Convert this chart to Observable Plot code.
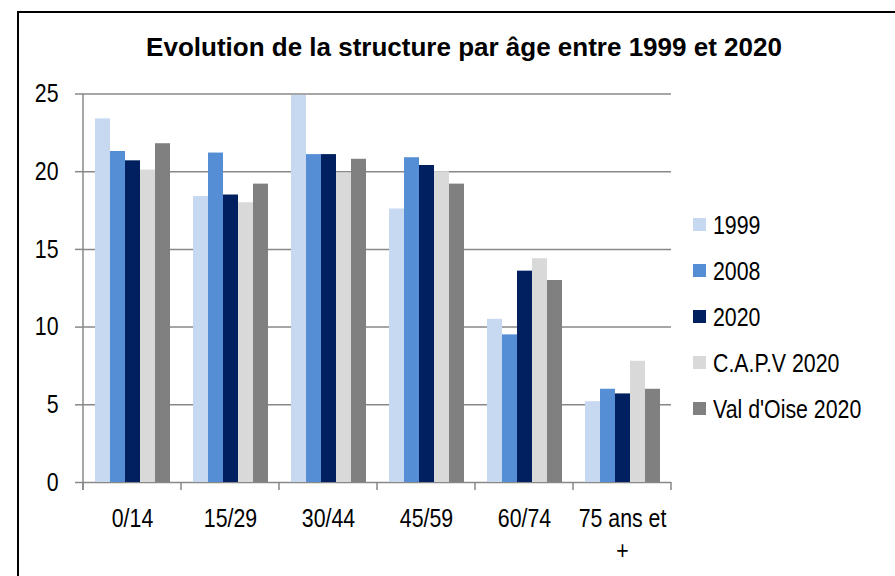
<!DOCTYPE html>
<html>
<head>
<meta charset="utf-8">
<script src="https://cdn.jsdelivr.net/npm/d3@7"></script>
<script src="https://cdn.jsdelivr.net/npm/@observablehq/plot@0.6"></script>
<style>
  html, body { margin: 0; padding: 0; background: #fff; }
  #wrap { position: relative; width: 895px; height: 576px; overflow: hidden; background: #fff; }
  #frame { position: absolute; left: 17px; top: 11px; width: 1000px; height: 1000px; border: 2px solid #000; box-sizing: border-box; }
  #chart { position: absolute; left: 0; top: 0; }
  #title { position: absolute; left: 0; width: 928px; top: 34px; text-align: center;
           font: bold 26px/26px "Liberation Sans", Arial, sans-serif; color: #000; white-space: nowrap; }
  #legend { position: absolute; left: 693px; top: 201.5px; }
  .item { display: flex; align-items: center; height: 46px;
          font: 26px/26px "Liberation Sans", Arial, sans-serif; color: #000; white-space: nowrap; }
  .sw { width: 13px; height: 13px; margin-right: 6.5px; flex: none; }
  .lt { display: inline-block; transform: scaleX(0.82); transform-origin: 0 50%; }
</style>
</head>
<body>
<div id="wrap">
  <div id="frame"></div>
  <div id="chart"></div>
  <div id="title"></div>
  <div id="legend"></div>
</div>
<script>
const titleText = "Evolution de la structure par âge entre 1999 et 2020";
const categories = ["0/14", "15/29", "30/44", "45/59", "60/74", "75 ans et +"];
const categoryLabels = ["0/14", "15/29", "30/44", "45/59", "60/74", "75 ans et\n+"];
const series = ["1999", "2008", "2020", "C.A.P.V 2020", "Val d'Oise 2020"];
const colors = ["#c6d9f1", "#558ed5", "#002060", "#d9d9d9", "#808080"];
const v1999 = [23.4, 18.4, 24.9, 17.6, 10.5, 5.2];
const v2008 = [21.3, 21.2, 21.1, 20.9, 9.5, 6.0];
const v2020 = [20.7, 18.5, 21.1, 20.4, 13.6, 5.7];
const vCapv = [20.1, 18.0, 19.9, 20.0, 14.4, 7.8];
const vVdo = [21.8, 19.2, 20.8, 19.2, 13.0, 6.0];
const yTicks = [0, 5, 10, 15, 20, 25];

const seriesValues = [v1999, v2008, v2020, vCapv, vVdo];
const rows = categories.flatMap((c, i) =>
  series.map((s, j) => ({cat: c, series: s, value: seriesValues[j][i]})));

const chart = Plot.plot({
  width: 895,
  height: 576,
  marginLeft: 83,
  marginRight: 224,
  marginTop: 93.5,
  marginBottom: 94,
  style: {fontFamily: '"Liberation Sans", Arial, sans-serif', fontSize: "26px", color: "#000", background: "transparent", overflow: "visible"},
  facet: {data: rows, x: "cat"},
  fx: {domain: categories, padding: 0, axis: null},
  x: {domain: series, paddingInner: 0, paddingOuter: 0.745, axis: null},
  y: {domain: [0, 25], axis: null},
  color: {domain: series, range: colors},
  marks: [
    Plot.gridY(yTicks, {stroke: "#888", strokeOpacity: 1, strokeWidth: 1.5}),
    Plot.barY(rows, {x: "series", y: "value", fill: "series"}),
    Plot.axisY(yTicks, {tickSize: 8, tickPadding: 17, stroke: "#888", strokeWidth: 1.5, label: null, fontSize: 26}),
    Plot.axisFx({anchor: "bottom", tickSize: 0, tickPadding: 22, label: null, lineHeight: 1.23, fontSize: 26,
                 tickFormat: d => categoryLabels[categories.indexOf(d)]})
  ]
});

// Narrow (Arial Narrow–like) look for the axis labels: compress each label horizontally around its anchor
d3.select(chart).selectAll("text").each(function() {
  const t = this.getAttribute("transform") || "";
  this.setAttribute("transform", (t + " scale(0.82,1)").trim());
});

// Excel-style axis line and tick marks at the category band edges, from the Plot scales
const fx = chart.scale("fx");
const y = chart.scale("y");
const g = d3.select(chart).append("g").attr("stroke", "#888").attr("stroke-width", 1.5);
const y0 = y.apply(0);
const yTop = y.apply(yTicks[yTicks.length - 1]);
const xLeft = fx.apply(categories[0]);
g.append("line").attr("x1", xLeft).attr("x2", xLeft).attr("y1", yTop).attr("y2", y0 + 8);
const edges = categories.map(c => fx.apply(c)).concat([fx.apply(categories[categories.length - 1]) + fx.bandwidth]);
edges.forEach(e => g.append("line").attr("x1", e).attr("x2", e).attr("y1", y0).attr("y2", y0 + 8));

document.getElementById("chart").appendChild(chart);
document.getElementById("title").textContent = titleText;
const legend = document.getElementById("legend");
series.forEach((s, j) => {
  const it = document.createElement("div");
  it.className = "item";
  const sw = document.createElement("span");
  sw.className = "sw";
  sw.style.background = colors[j];
  const t = document.createElement("span");
  t.className = "lt";
  t.textContent = s;
  it.appendChild(sw);
  it.appendChild(t);
  legend.appendChild(it);
});
</script>
</body>
</html>
